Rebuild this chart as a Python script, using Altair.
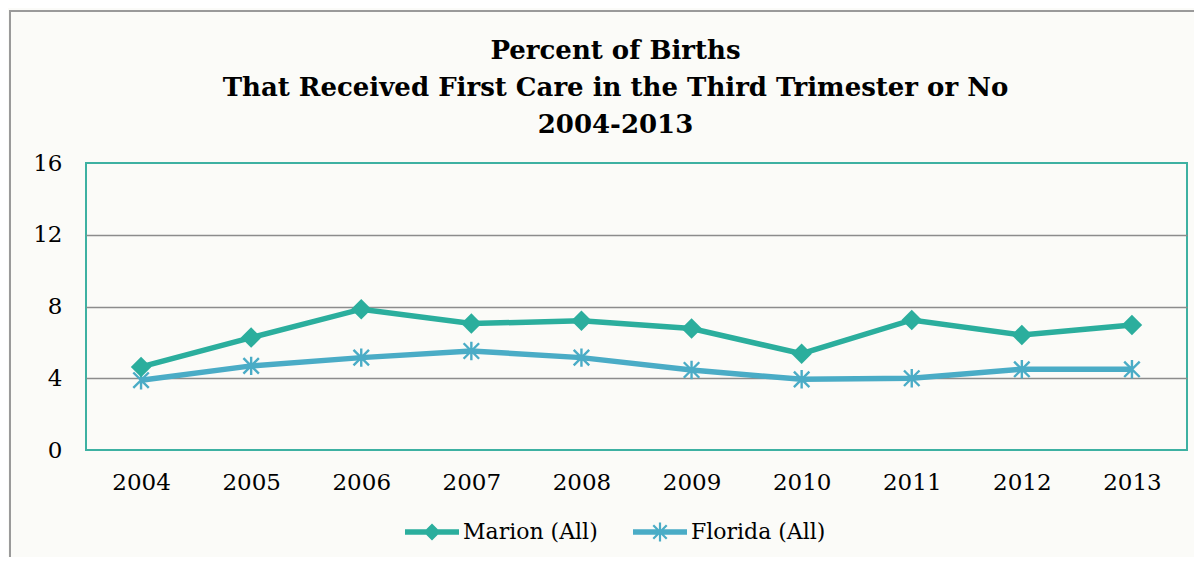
import altair as alt
import pandas as pd
import math

years = ["2004", "2005", "2006", "2007", "2008", "2009", "2010", "2011", "2012", "2013"]
marion = [4.63, 6.27, 7.85, 7.05, 7.2, 6.77, 5.37, 7.25, 6.41, 6.97]
florida = [3.89, 4.69, 5.15, 5.52, 5.15, 4.46, 3.94, 4.0, 4.5, 4.5]
series_names = ["Marion (All)", "Florida (All)"]
series_colors = ["#2BAE9D", "#4AACC6"]
y_ticks = [0, 4, 8, 12, 16]
title_lines = ["Percent of Births", "That Received First Care in the Third Trimester or No", "2004-2013"]

FONT = "DejaVu Serif"
W, H = 1101, 287

rows = []
for name, vals in zip(series_names, [marion, florida]):
    for yr, v in zip(years, vals):
        rows.append({"Year": yr, "Value": v, "Series": name})
df = pd.DataFrame(rows)

# ---- symbol shapes (Vega custom paths live in a [-1, 1] box) ----
def rect_poly(cx, cy, length, half_th, ang):
    c, s = math.cos(ang), math.sin(ang)
    hl = length / 2
    pts = [(-hl, -half_th), (hl, -half_th), (hl, half_th), (-hl, half_th)]
    out = []
    for px, py in pts:
        out.append((cx + px * c - py * s, cy + px * s + py * c))
    return "M" + "L".join(f"{x:.4f},{y:.4f}" for x, y in out) + "Z"

LEG = 54.0            # legend symbol box width in px
U = 2.0 / LEG         # path units per pixel
line_seg = rect_poly(0, 0, 2.0, 2.7 * U, 0)
dh = 8.5 * U
diamond_leg = f"M0,{-dh:.4f}L{dh:.4f},0L0,{dh:.4f}L{-dh:.4f},0Z"
ast_len = 19 * U
ast_th = 1.1 * U
ast_leg = "".join(rect_poly(0, 0, ast_len, ast_th, a) for a in [math.pi / 2, math.pi / 4, -math.pi / 4])
marion_legend = line_seg + diamond_leg
florida_legend = line_seg + ast_leg

asterisk = "M0,-1L0,1M-0.84,-0.84L0.84,0.84M-0.84,0.84L0.84,-0.84"

color_scale = alt.Scale(domain=series_names, range=series_colors)

base = alt.Chart(df).encode(
    x=alt.X("Year:O", scale=alt.Scale(type="point", padding=0.5), sort=years,
            axis=alt.Axis(title=None, labelAngle=0, labelFont=FONT, labelFontSize=23,
                          labelColor="#000000", labelPadding=21, ticks=False, domain=False, grid=False)),
    y=alt.Y("Value:Q", scale=alt.Scale(domain=[0, 16], nice=False, zero=True),
            axis=alt.Axis(title=None, values=y_ticks, labelFont=FONT, labelFontSize=23,
                          labelColor="#000000", labelPadding=24, ticks=False, domain=False,
                          grid=True, gridWidth=1.6,
                          gridColor={"condition": {"test": "datum.value === 0 || datum.value === 16",
                                                   "value": "transparent"}, "value": "#8C8C8C"})),
)

frame = alt.Chart(df).mark_rect(fill="transparent", stroke="#9A9A9A", strokeWidth=2).encode(
    x=alt.value(-76), x2=alt.value(1140), y=alt.value(-152), y2=alt.value(430)
)

marion_base = base.transform_filter(alt.datum.Series == series_names[0])
florida_base = base.transform_filter(alt.datum.Series == series_names[1])

marion_line = marion_base.mark_line(strokeWidth=5.5, color=series_colors[0])
florida_line = florida_base.mark_line(strokeWidth=5.5, color=series_colors[1])

marion_pts = marion_base.mark_point(
    shape="diamond", filled=True, size=420, opacity=1, color=series_colors[0]
)
florida_pts = florida_base.mark_point(
    shape=asterisk, filled=False, size=340, opacity=1, strokeWidth=2.4, color=series_colors[1]
)

legend_def = alt.Legend(title=None, orient="none", legendX=319, legendY=342,
                        direction="horizontal", symbolSize=LEG * LEG,
                        symbolStrokeWidth=0, labelFont=FONT,
                        labelFontSize=22, labelColor="#000000", labelOffset=4,
                        columnPadding=35, padding=0, labelLimit=400)

legend_layer = base.mark_point(filled=True, size=0, opacity=1).encode(
    color=alt.Color("Series:N", scale=color_scale, legend=legend_def),
    shape=alt.Shape("Series:N", scale=alt.Scale(domain=series_names,
                                                range=[marion_legend, florida_legend]),
                    legend=legend_def),
)

chart = alt.layer(frame, florida_line, marion_line, florida_pts, marion_pts, legend_layer).properties(
    width=W, height=H,
    autosize=alt.AutoSizeParams(type="none"),
    padding={"left": 78, "top": 155, "right": 7, "bottom": 107},
    title=alt.TitleParams(text=title_lines, font=FONT, fontSize=26, fontWeight="bold",
                          color="#000000", lineHeight=37, anchor="middle", frame="group",
                          dx=-21, offset=-128),
).configure(background="#FBFBF8").configure_view(stroke="#3DB1A2", strokeWidth=2)

chart.save("out.html", embed_options={"renderer": "svg", "actions": False})
